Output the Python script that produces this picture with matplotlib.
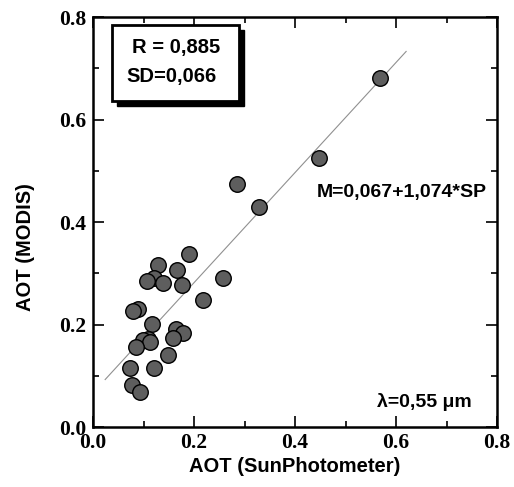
import matplotlib
matplotlib.use('Agg')
import matplotlib.pyplot as plt
from matplotlib.patches import Rectangle
from matplotlib.ticker import MultipleLocator
import numpy as np


# AOT values
sun_photometer = [0.568, 0.448, 0.329, 0.285, 0.190, 0.129, 0.166, 0.258, 0.121,
                  0.107, 0.138, 0.176, 0.218, 0.089, 0.079, 0.117, 0.164, 0.178,
                  0.158, 0.109, 0.099, 0.113, 0.085, 0.148, 0.073, 0.121, 0.077,
                  0.093]
modis = [0.681, 0.525, 0.429, 0.474, 0.337, 0.316, 0.306, 0.291, 0.291,
         0.285, 0.281, 0.277, 0.248, 0.230, 0.226, 0.201, 0.191, 0.183,
         0.174, 0.172, 0.170, 0.166, 0.156, 0.140, 0.115, 0.115, 0.082,
         0.068]

fit_intercept = 0.067
fit_slope = 1.074
fit_range = [0.024, 0.62]

sans = 'Liberation Sans'
serif = 'Liberation Serif'

fig = plt.figure(figsize=(5.14, 4.87), dpi=100)
ax = fig.add_axes([0.181, 0.123, 0.786, 0.842])

fx = np.array(fit_range)
ax.plot(fx, fit_intercept + fit_slope * fx, color='#909090', lw=0.8, zorder=1)
ax.scatter(sun_photometer, modis, s=125, c='#5e5e5e', edgecolors='black',
           linewidths=1.0, zorder=2)

ax.set_xlim(0, 0.8)
ax.set_ylim(0, 0.8)
ax.xaxis.set_major_locator(MultipleLocator(0.2))
ax.xaxis.set_minor_locator(MultipleLocator(0.1))
ax.yaxis.set_major_locator(MultipleLocator(0.2))
ax.yaxis.set_minor_locator(MultipleLocator(0.1))
ax.tick_params(which='both', direction='in', top=True, right=True, width=1.2)
ax.tick_params(which='major', length=8)
ax.tick_params(which='minor', length=4)
ax.tick_params(axis='x', pad=4)
ax.tick_params(axis='y', pad=5)
for sp in ax.spines.values():
    sp.set_linewidth(1.8)

for lab in ax.get_xticklabels() + ax.get_yticklabels():
    lab.set_fontfamily(serif)
    lab.set_fontweight('bold')
    lab.set_fontsize(15.5)

ax.set_xlabel('AOT (SunPhotometer)', fontfamily=sans, fontweight='bold',
              fontsize=14.5, labelpad=3)
ax.set_ylabel('AOT (MODIS)', fontfamily=sans, fontweight='bold',
              fontsize=14.5)
ax.yaxis.set_label_coords(-0.143, 0.44)

# statistics box with shadow
ax.add_patch(Rectangle((0.059, 0.783), 0.314, 0.185, transform=ax.transAxes,
                       facecolor='black', edgecolor='black', zorder=3,
                       clip_on=False))
ax.add_patch(Rectangle((0.047, 0.795), 0.314, 0.185, transform=ax.transAxes,
                       facecolor='white', edgecolor='black', lw=2, zorder=4,
                       clip_on=False))
ax.text(0.205, 0.925, 'R = 0,885', transform=ax.transAxes, ha='center',
        va='center', fontfamily=sans, fontweight='bold', fontsize=14.5, zorder=5)
ax.text(0.195, 0.855, 'SD=0,066', transform=ax.transAxes, ha='center',
        va='center', fontfamily=sans, fontweight='bold', fontsize=14.5, zorder=5)

ax.text(0.553, 0.572, 'M=0,067+1,074*SP', transform=ax.transAxes, ha='left',
        va='center', fontfamily=sans, fontweight='bold', fontsize=14)
ax.text(0.703, 0.061, 'λ=0,55 μm', transform=ax.transAxes, ha='left',
        va='center', fontfamily=sans, fontweight='bold', fontsize=14)

fig.savefig('out.png', dpi=100)
